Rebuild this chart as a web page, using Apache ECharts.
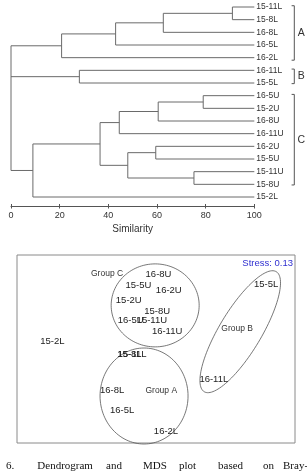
<!DOCTYPE html>
<html><head><meta charset="utf-8">
<script src="https://cdn.jsdelivr.net/npm/echarts@6/dist/echarts.min.js"></script>
<style>html,body{margin:0;padding:0;background:#fff}#c{width:307px;height:471px}</style>
</head><body><div id="c"></div>
<script>
// ---------- Dendrogram data ----------
const leaves = ['15-11L','15-8L','16-8L','16-5L','16-2L','16-11L','15-5L','16-5U','15-2U','16-8U','16-11U','16-2U','15-5U','15-11U','15-8U','15-2L'];
// children of each merge node (numbers = leaf index, 'nK' = merge node K)
const mergeChildren = [
  [0,1], ['n0',2], ['n1',3], ['n2',4],
  [5,6],
  [7,8], ['n5',9], ['n6',10],
  [11,12], [13,14], ['n8','n9'],
  ['n7','n10'], ['n11',15],
  ['n3','n4','n12']
];
const mergeSimilarity = [91, 62.6, 43, 20.8, 28.1, 79, 60.5, 44.5, 59.5, 75.2, 48, 36.6, 9, 0];
const simTicks = [0,20,40,60,80,100];
const groupNames = ['A','B','C'];
const groupFirstLeaf = [0,5,7];
const groupLastLeaf = [4,6,14];

// ---------- MDS data ----------
const mdsNames = ['16-8U','15-5U','16-2U','15-2U','15-8U','16-5U','15-11U','16-11U','15-2L','15-8L','15-11L','16-8L','16-5L','16-2L','15-5L','16-11L'];
const mdsX = [50.9, 43.7, 54.6, 40.2, 50.4, 40.9, 48.5, 54.0, 12.7, 40.4, 41.4, 34.2, 37.8, 53.6, 89.6, 70.8];
const mdsY = [89.9, 84.0, 81.0, 76.1, 70.2, 65.1, 65.4, 59.2, 53.9, 47.3, 47.3, 27.8, 17.6, 6.0, 84.4, 33.9];
const mdsGroupNames = ['Group C','Group A','Group B'];
const mdsGroupX = [32.4, 51.9, 79.2];
const mdsGroupY = [90.3, 27.8, 61.0];
const ellipseCenterX = [49.7, 45.7, 80.3];
const ellipseCenterY = [73.2, 25.0, 59.2];
const stress = 0.13;

// ---------- build dendrogram segments ----------
const nodeY = {}, nodeX = {};
const yOf = c => typeof c === 'number' ? c : nodeY[c];
const xOf = c => typeof c === 'number' ? 100 : nodeX[c];
const segments = [];
mergeChildren.forEach((ch, i) => {
  const id = 'n' + i, s = mergeSimilarity[i];
  const ys = ch.map(yOf);
  const lo = Math.min(...ys), hi = Math.max(...ys);
  nodeY[id] = (lo + hi) / 2;
  nodeX[id] = s;
  segments.push([s, lo, s, hi]);
  ch.forEach(c => segments.push([s, yOf(c), xOf(c), yOf(c)]));
});

const LINE = '#6a6a6a';
const TXT = '#333';
const FONT = 'Liberation Sans, Arial, sans-serif';

// ellipse styles (pixel radii, rotation in degrees)
const ellipseShape = [
  {rx: 44, ry: 41.5, rot: 0},
  {rx: 44, ry: 48, rot: 0},
  {rx: 70, ry: 21, rot: 59}
];

const dendroGrid = {left: 11, top: 7, width: 243.3, height: 190};

const chart = echarts.init(document.getElementById('c'), null, {renderer: 'canvas'});
chart.setOption({
  animation: false,
  backgroundColor: '#fff',
  title: {
    text: 'Stress: ' + stress.toFixed(2),
    right: 14, top: 258, padding: 0,
    textStyle: {color: '#2f2fd0', fontSize: 9.5, fontWeight: 'normal', fontFamily: FONT}
  },
  grid: [
    Object.assign({}, dendroGrid),
    {left: 17, top: 255, right: 12, bottom: 28, show: true, borderColor: '#8a8a8a', borderWidth: 1, backgroundColor: 'transparent'},
    Object.assign({}, dendroGrid)
  ],
  xAxis: [
    {
      gridIndex: 0, type: 'value', min: 0, max: 100, interval: 20, offset: 9, position: 'bottom',
      axisLine: {onZero: false, lineStyle: {color: '#555', width: 1}},
      axisTick: {length: 2.5, lineStyle: {color: '#555'}},
      axisLabel: {fontSize: 9, color: TXT, margin: 5, fontFamily: FONT,
        formatter: v => simTicks.includes(v) ? String(v) : ''},
      splitLine: {show: false},
      name: 'Similarity', nameLocation: 'middle', nameGap: 18,
      nameTextStyle: {fontSize: 10, color: TXT, fontFamily: FONT}
    },
    {gridIndex: 1, type: 'value', min: 0, max: 100, show: false},
    {
      gridIndex: 2, type: 'value', min: 0, max: 100, interval: 20, offset: 9, position: 'bottom',
      axisLine: {show: false, onZero: false},
      axisTick: {inside: true, length: 2, lineStyle: {color: '#555'}},
      axisLabel: {show: false}, splitLine: {show: false}
    }
  ],
  yAxis: [
    {
      gridIndex: 0, type: 'value', min: 0, max: 15, interval: 1, inverse: true, position: 'right',
      axisLine: {show: false, onZero: false}, axisTick: {show: false}, splitLine: {show: false},
      axisLabel: {fontSize: 8.5, color: TXT, margin: 2, fontFamily: FONT, formatter: v => leaves[v] || ''}
    },
    {gridIndex: 1, type: 'value', min: 0, max: 100, show: false},
    {gridIndex: 2, type: 'value', min: 0, max: 15, show: false}
  ],
  series: [
    {
      type: 'custom', xAxisIndex: 0, yAxisIndex: 0, data: segments, silent: true,
      renderItem: (params, api) => {
        const p1 = api.coord([api.value(0), api.value(1)]);
        const p2 = api.coord([api.value(2), api.value(3)]);
        return {type: 'line', shape: {x1: p1[0], y1: p1[1], x2: p2[0], y2: p2[1]},
          style: {stroke: LINE, lineWidth: 1}};
      }
    },
    {
      type: 'custom', xAxisIndex: 0, yAxisIndex: 0, silent: true,
      data: groupNames.map((g, i) => [100, groupFirstLeaf[i], groupLastLeaf[i]]),
      renderItem: (params, api) => {
        const top = api.coord([100, api.value(1) - 0.1]);
        const bot = api.coord([100, api.value(2) + (params.dataIndex === 0 ? 0.2 : 0.05)]);
        const x = top[0] + 40;
        return {type: 'group', children: [
          {type: 'polyline', shape: {points: [[x - 2.7, top[1]], [x, top[1]], [x, bot[1]], [x - 2.7, bot[1]]]},
            style: {stroke: '#555', lineWidth: 1, fill: null}},
          {type: 'text', x: x + 7, y: (top[1] + bot[1]) / 2,
            style: {text: groupNames[params.dataIndex], textAlign: 'center', textVerticalAlign: 'middle',
              fontSize: 10.5, fontFamily: FONT, fill: TXT}}
        ]};
      }
    },
    {
      type: 'custom', xAxisIndex: 1, yAxisIndex: 1, silent: true,
      data: ellipseCenterX.map((x, i) => [x, ellipseCenterY[i]]),
      renderItem: (params, api) => {
        const c = api.coord([api.value(0), api.value(1)]);
        const e = ellipseShape[params.dataIndex];
        const th = -e.rot * Math.PI / 180;
        const pts = [];
        for (let k = 0; k < 120; k++) {
          const t = k / 120 * Math.PI * 2;
          const ex = e.rx * Math.cos(t), ey = e.ry * Math.sin(t);
          pts.push([c[0] + ex * Math.cos(th) - ey * Math.sin(th), c[1] + ex * Math.sin(th) + ey * Math.cos(th)]);
        }
        return {type: 'polygon', shape: {points: pts}, style: {stroke: '#555', lineWidth: 0.8, fill: null}};
      }
    },
    {
      type: 'custom', xAxisIndex: 1, yAxisIndex: 1, silent: true,
      data: mdsNames.map((n, i) => [mdsX[i], mdsY[i]]),
      renderItem: (params, api) => {
        const c = api.coord([api.value(0), api.value(1)]);
        return {type: 'text', x: c[0], y: c[1],
          style: {text: mdsNames[params.dataIndex], textAlign: 'center', textVerticalAlign: 'middle',
            fontSize: 9.5, fontFamily: FONT, fill: '#222'}};
      }
    },
    {
      type: 'custom', xAxisIndex: 1, yAxisIndex: 1, silent: true,
      data: mdsGroupNames.map((n, i) => [mdsGroupX[i], mdsGroupY[i]]),
      renderItem: (params, api) => {
        const c = api.coord([api.value(0), api.value(1)]);
        return {type: 'text', x: c[0], y: c[1],
          style: {text: mdsGroupNames[params.dataIndex], textAlign: 'center', textVerticalAlign: 'middle',
            fontSize: 8.5, fontFamily: FONT, fill: '#333'}};
      }
    }
  ],
  graphic: [
    ['6.', 6], ['Dendrogram', 37.3], ['and', 106], ['MDS', 143], ['plot', 179], ['based', 218], ['on', 263], ['Bray-Curtis', 283]
  ].map(([t, x]) => ({type: 'text', left: x, top: 461,
    style: {text: t, fontSize: 11, fontFamily: 'Liberation Serif, Times New Roman, serif', fill: '#111'}}))
});
</script>
</body></html>
